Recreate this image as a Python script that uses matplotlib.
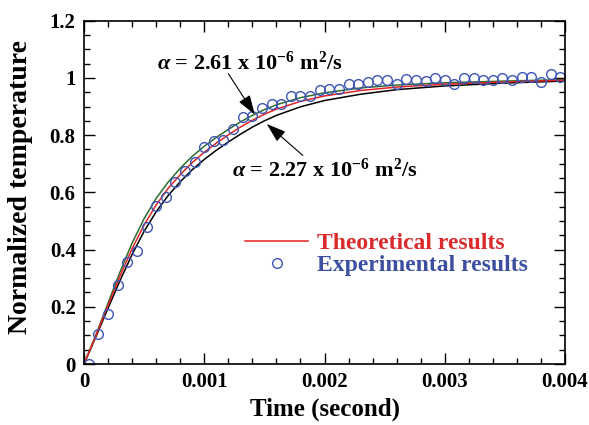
import matplotlib
matplotlib.use("Agg")
import matplotlib.pyplot as plt
from matplotlib.ticker import MultipleLocator, FuncFormatter
import numpy as np

plt.rcParams['font.family'] = 'Liberation Serif'
plt.rcParams['font.weight'] = 'bold'
plt.rcParams['mathtext.fontset'] = 'custom'
plt.rcParams['mathtext.rm'] = 'Liberation Serif:bold'
plt.rcParams['mathtext.it'] = 'Liberation Serif:italic:bold'
plt.rcParams['mathtext.bf'] = 'Liberation Serif:bold'

# theoretical curves
t_model = np.array([0, 0.0001, 0.0002, 0.0003, 0.0004, 0.0005, 0.0006, 0.0007,
                    0.0008, 0.0009, 0.001, 0.0011, 0.0012, 0.0013, 0.0014, 0.0015,
                    0.0016, 0.0018, 0.002, 0.0023, 0.0026, 0.003, 0.0035, 0.004])
y_upper = np.array([0, 0.103, 0.213, 0.322, 0.423, 0.508, 0.579, 0.636,
                    0.684, 0.726, 0.761, 0.792, 0.820, 0.846, 0.869, 0.889,
                    0.906, 0.931, 0.948, 0.965, 0.975, 0.983, 0.989, 0.994])  # alpha = 2.61e-6
y_mid = np.array([0, 0.100, 0.205, 0.308, 0.403, 0.486, 0.556, 0.614,
                  0.662, 0.704, 0.740, 0.772, 0.801, 0.828, 0.852, 0.873,
                  0.891, 0.918, 0.937, 0.956, 0.968, 0.978, 0.986, 0.992])
y_lower = np.array([0, 0.096, 0.195, 0.292, 0.383, 0.464, 0.532, 0.589,
                    0.637, 0.679, 0.715, 0.747, 0.776, 0.803, 0.828, 0.850,
                    0.869, 0.899, 0.921, 0.943, 0.959, 0.972, 0.982, 0.989])  # alpha = 2.27e-6

# experimental points
t_exp = np.array([0.00004, 0.00012, 0.0002, 0.00028, 0.00036, 0.00044, 0.00052, 0.0006,
                  0.00068, 0.00076, 0.00084, 0.00092, 0.001, 0.00108, 0.00116, 0.00124,
                  0.00132, 0.0014, 0.00148, 0.00156, 0.00164, 0.00172, 0.0018, 0.00188,
                  0.00196, 0.00204, 0.00212, 0.0022, 0.00228, 0.00236, 0.00244, 0.00252,
                  0.0026, 0.00268, 0.00276, 0.00284, 0.00292, 0.003, 0.00308, 0.00316,
                  0.00324, 0.00332, 0.0034, 0.00348, 0.00356, 0.00364, 0.00372, 0.0038,
                  0.00388, 0.00396])
y_exp = np.array([0.0, 0.106, 0.174, 0.277, 0.357, 0.395, 0.479, 0.554,
                  0.584, 0.637, 0.675, 0.707, 0.757, 0.779, 0.783, 0.820,
                  0.864, 0.868, 0.895, 0.909, 0.909, 0.937, 0.938, 0.938,
                  0.959, 0.963, 0.963, 0.980, 0.980, 0.986, 0.994, 0.994,
                  0.979, 0.995, 0.991, 0.990, 1.001, 0.993, 0.980, 1.001,
                  1.000, 0.991, 0.993, 1.001, 0.994, 1.004, 1.002, 0.986,
                  1.012, 1.003])

fig = plt.figure(figsize=(5.89, 4.25), dpi=100)
ax = fig.add_axes([0.1426, 0.1435, 0.8167, 0.8078])

ax.plot(t_model, y_lower, color='black', lw=1.1)
ax.plot(t_model, y_upper, color='#2f6b2f', lw=1.1)
ax.plot(t_model, y_mid, color='#e32222', lw=1.1, label='Theoretical results')
ax.plot(t_exp, y_exp, 'o', ms=7, mfc='none', mec='#3d55b5', mew=1.0,
        label='Experimental results')

ax.set_xlim(0, 0.004)
ax.set_ylim(0, 1.2)
ax.xaxis.set_major_locator(MultipleLocator(0.001))
ax.xaxis.set_minor_locator(MultipleLocator(0.0002))
ax.yaxis.set_major_locator(MultipleLocator(0.2))
ax.yaxis.set_minor_locator(MultipleLocator(0.05))
fmt = FuncFormatter(lambda v, p: '%g' % round(v, 6))
ax.xaxis.set_major_formatter(fmt)
ax.yaxis.set_major_formatter(fmt)
ax.tick_params(which='both', direction='in', top=True, right=True,
               labelsize=15, pad=6)
ax.tick_params(which='major', length=8, width=1)
ax.tick_params(which='minor', length=4.5, width=1)
for s in ax.spines.values():
    s.set_linewidth(1.2)

ax.set_xlabel('Time (second)', fontsize=18, fontweight='bold', labelpad=4)
ax.set_ylabel('Normalized temperature', fontsize=20, fontweight='bold')
ax.yaxis.set_label_coords(-0.105, 0.515)

arrow = dict(arrowstyle='-|>,head_length=0.6,head_width=0.2', color='black',
             lw=0.8, mutation_scale=20, shrinkA=0, shrinkB=0)
ax.annotate('', xy=(0.00142, 0.872), xytext=(0.00120, 1.015), arrowprops=arrow)
ax.text(0.00138, 1.053, r'$\alpha$ = 2.61 x 10$^{-6}$ m$^{2}$/s', fontsize=16,
        ha='center', va='center')
ax.annotate('', xy=(0.00152, 0.839), xytext=(0.00182, 0.729), arrowprops=arrow)
ax.text(0.0020, 0.677, r'$\alpha$ = 2.27 x 10$^{-6}$ m$^{2}$/s', fontsize=16,
        ha='center', va='center')

leg = ax.legend(loc='upper left', bbox_to_anchor=(0.335, 0.382), frameon=False,
                fontsize=17, handlelength=2.67, handletextpad=0.38,
                labelspacing=0.0, borderpad=0, borderaxespad=0,
                labelcolor=['#d92b2b', '#3c4ea0'])

fig.savefig('out.png', dpi=100)
